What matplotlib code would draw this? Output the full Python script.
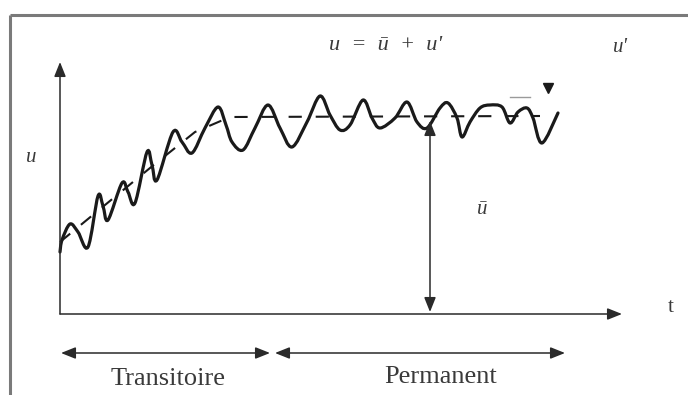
import matplotlib
matplotlib.use("Agg")
import matplotlib.pyplot as plt
from matplotlib.path import Path
from matplotlib.patches import PathPatch
import numpy as np

# ---- data (pixel-like coordinates: x to the right, y downward) ----
curve_x = [60, 62, 70, 78, 88, 98, 103, 108, 122, 128, 135, 147, 152, 157, 173, 182, 192, 205, 218,
           226, 232, 243, 255, 268, 280, 292, 307, 320, 330, 340, 350, 363, 372, 380, 395, 407,
           417, 427, 440, 448, 457, 462, 470, 480, 490, 502, 510, 518, 527, 533, 542, 558]
curve_y = [252, 240, 224, 232, 247, 196, 206, 220, 183, 192, 203, 152, 165, 180, 132, 142, 153, 128, 107,
           125, 142, 150, 128, 105, 128, 147, 122, 96, 115, 130, 125, 100, 118, 128, 118, 102,
           122, 128, 108, 103, 118, 137, 122, 108, 105, 107, 123, 112, 108, 118, 143, 113]

mean_x = [60, 105, 150, 195, 230, 540]
mean_y = [242, 205, 168, 132, 117, 116]

formula = "u  =  ū  +  u'"
y_label = "u"
x_label = "t"
mean_label = "ū"
fluct_label = "u'"
phase_labels = ["Transitoire", "Permanent"]


def smooth_path(xs, ys, tension=1 / 6):
    """Bezier path passing through the read points (Catmull-Rom style handles)."""
    p = np.column_stack([xs, ys]).astype(float)
    verts = [p[0]]
    codes = [Path.MOVETO]
    n = len(p)
    for i in range(n - 1):
        p0 = p[i - 1] if i > 0 else p[i]
        p1, p2 = p[i], p[i + 1]
        p3 = p[i + 2] if i + 2 < n else p[i + 1]
        c1 = p1 + (p2 - p0) * tension
        c2 = p2 - (p3 - p1) * tension
        verts += [c1, c2, p2]
        codes += [Path.CURVE4] * 3
    return Path(verts, codes)


# ---- figure ----
W, H = 688, 395
fig = plt.figure(figsize=(W / 100, H / 100), dpi=100)
ax = fig.add_axes([0, 0, 1, 1])
ax.set_xlim(0, W)
ax.set_ylim(H, 0)
ax.axis("off")
plt.rcParams["lines.scale_dashes"] = False

ink = "#1a1a1a"
txt = "#3a3a3a"
serif = ["Liberation Serif", "DejaVu Serif"]

# frame (top and left)
ax.plot([10, W], [15, 15], color="#7a7a7a", lw=2.2, solid_capstyle="butt")
ax.plot([10, 10], [15, H], color="#7a7a7a", lw=2.2, solid_capstyle="butt")

# axes with arrows
arr = dict(arrowstyle="-|>,head_length=0.55,head_width=0.22", lw=1.1, color="#2a2a2a",
           mutation_scale=16, shrinkA=0, shrinkB=0)
ax.annotate("", xy=(60, 62), xytext=(60, 314), arrowprops=arr)
ax.annotate("", xy=(622, 314), xytext=(60, 314), arrowprops=arr)

# mean (dashed)
ax.plot(mean_x, mean_y, color=ink, lw=1.5, linestyle=(0, (9.5, 10)))

# instantaneous signal
ax.add_patch(PathPatch(smooth_path(curve_x, curve_y), facecolor="none", edgecolor=ink,
                       lw=2.3, joinstyle="round", capstyle="round"))

# vertical double arrow for mean value
darr = dict(arrowstyle="<|-|>,head_length=0.55,head_width=0.22", lw=1.1, color="#2a2a2a",
            mutation_scale=16, shrinkA=0, shrinkB=0)
ax.annotate("", xy=(430, 312), xytext=(430, 121), arrowprops=darr)

# fluctuation marker
ax.plot([510, 530], [97, 97], color="#9a9a9a", lw=1.0)
ax.plot([548], [88], marker="v", color=ink, markersize=7, linestyle="none")

# phase arrows
ax.annotate("", xy=(61, 353), xytext=(270, 353), arrowprops=darr)
ax.annotate("", xy=(275, 353), xytext=(565, 353), arrowprops=darr)

# texts
ax.text(386, 45, formula, fontsize=16, ha="center", va="center", color=txt,
        family=serif, style="italic")
ax.text(620, 48, fluct_label, fontsize=15, ha="center", va="center", color=txt,
        family=serif, style="italic")
ax.text(31, 157, y_label, fontsize=15, ha="center", va="center", color=txt,
        family=serif, style="italic")
ax.text(482, 210, mean_label, fontsize=15, ha="center", va="center", color=txt,
        family=serif, style="italic")
ax.text(671, 307, x_label, fontsize=15, ha="center", va="center", color=txt, family=serif)
ax.text(168, 379, phase_labels[0], fontsize=19, ha="center", va="center", color=txt, family=serif)
ax.text(441, 377, phase_labels[1], fontsize=19, ha="center", va="center", color=txt, family=serif)

fig.savefig("out.png", dpi=100)
